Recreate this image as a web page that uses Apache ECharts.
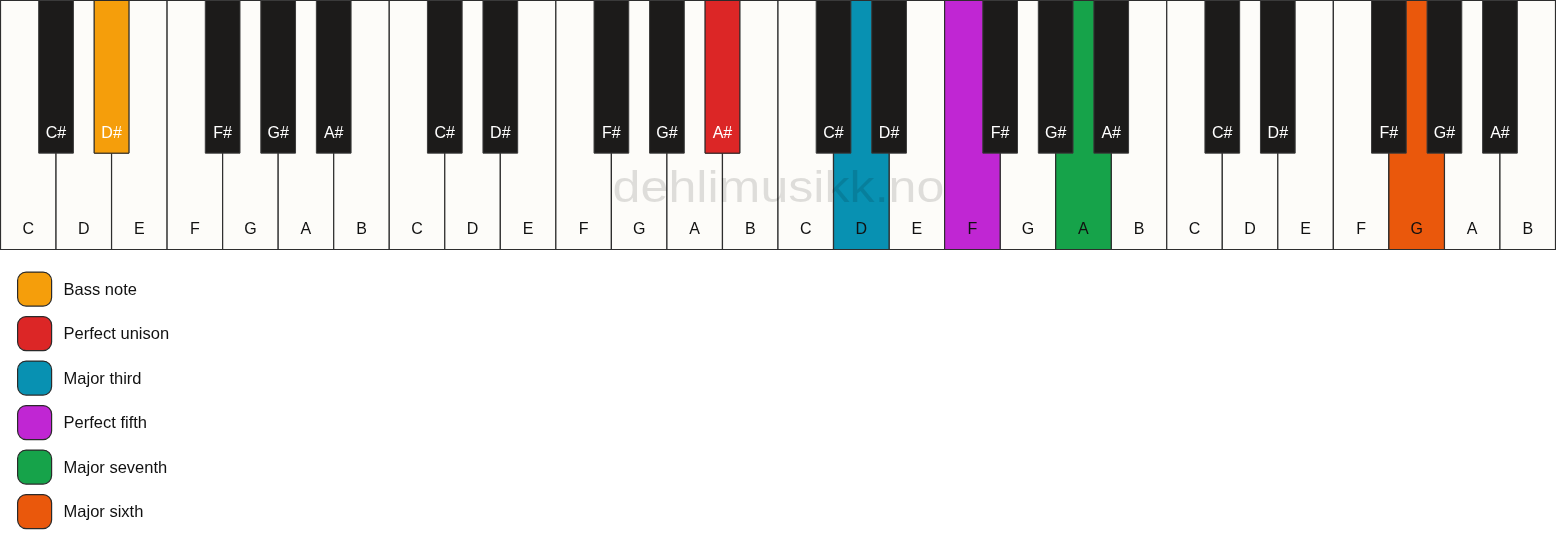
<!DOCTYPE html>
<html>
<head>
<meta charset="utf-8">
<script src="https://cdn.jsdelivr.net/npm/echarts@6/dist/echarts.min.js"></script>
<style>
html,body{margin:0;padding:0;background:#ffffff;}
#chart{width:1556px;height:550px;}
</style>
</head>
<body>
<div id="chart"></div>
<script>
// ---- data ----
const whiteNotes = ['C', 'D', 'E', 'F', 'G', 'A', 'B'];
const blackNotes = ['C#', 'D#', 'F#', 'G#', 'A#'];
const octaveCount = 4;
const roleNames = ['Bass note', 'Perfect unison', 'Major third', 'Perfect fifth', 'Major seventh', 'Major sixth'];
const roleNotes = ['D#', 'A#', 'D', 'F', 'A', 'G'];
const roleOctaves = [0, 1, 2, 2, 2, 3];
const roleColors = ['#F59E0B', '#DC2626', '#0891B2', '#C026D3', '#16A34A', '#EA580C'];
const watermarkText = 'dehlimusikk.no';

// ---- style constants ----
const FONT = '"Liberation Sans", Arial, Helvetica, sans-serif';
const WHITE_FILL = '#fdfcf9';
const BLACK_FILL = '#1c1b1a';
const BLACK_LEN = 0.613;   // fraction of white key length
const BLACK_W = 0.625;     // fraction of white key width
const WHITE_LABEL_Y = 0.922;
const BLACK_LABEL_Y = 0.534;

// note -> position on white-key axis
function notePos(note, octave) {
  const base = octave * 7 + whiteNotes.indexOf(note[0]);
  return note.length > 1 ? base + 1 : base;
}
const isBlack = n => n.indexOf('#') >= 0;

const whiteLabels = [], whitePos = [];
const blackLabels = [], blackPos = [];
for (let o = 0; o < octaveCount; o++) {
  whiteNotes.forEach(n => { whiteLabels.push(n); whitePos.push(notePos(n, o)); });
  blackNotes.forEach(n => { blackLabels.push(n); blackPos.push(notePos(n, o)); });
}

function whiteKey(api, pos, label, fill) {
  const tl = api.coord([pos, 0]);
  const br = api.coord([pos + 1, 1]);
  const ly = api.coord([pos, WHITE_LABEL_Y])[1];
  return {
    type: 'group',
    children: [
      { type: 'rect', shape: { x: tl[0], y: tl[1], width: br[0] - tl[0], height: br[1] - tl[1] },
        style: { fill: fill, stroke: '#2e2e2e', lineWidth: 1.2 } },
      { type: 'text', x: (tl[0] + br[0]) / 2, y: ly,
        style: { text: label, fill: '#111111', font: '16px ' + FONT,
                 align: 'center', verticalAlign: 'middle', textAlign: 'center', textVerticalAlign: 'middle' } }
    ]
  };
}
function blackKey(api, pos, label, fill, stroke) {
  const tl = api.coord([pos - BLACK_W / 2, 0]);
  const br = api.coord([pos + BLACK_W / 2, BLACK_LEN]);
  const ly = api.coord([pos, BLACK_LABEL_Y])[1];
  return {
    type: 'group',
    children: [
      { type: 'rect', shape: { x: tl[0], y: tl[1], width: br[0] - tl[0], height: br[1] - tl[1] },
        style: { fill: fill, stroke: stroke, lineWidth: 1 } },
      { type: 'text', x: (tl[0] + br[0]) / 2, y: ly,
        style: { text: label, fill: '#ffffff', font: '16px ' + FONT,
                 align: 'center', verticalAlign: 'middle', textAlign: 'center', textVerticalAlign: 'middle' } }
    ]
  };
}

const series = [
  {
    name: 'white keys', type: 'custom', z: 1, silent: true,
    data: whitePos.map(p => [p]),
    renderItem: (params, api) => whiteKey(api, api.value(0), whiteLabels[params.dataIndex], WHITE_FILL)
  },
  {
    name: 'black keys', type: 'custom', z: 3, silent: true,
    data: blackPos.map(p => [p]),
    renderItem: (params, api) => blackKey(api, api.value(0), blackLabels[params.dataIndex], BLACK_FILL, '#3a3a3a')
  }
];
roleNames.forEach((name, k) => {
  const note = roleNotes[k];
  const black = isBlack(note);
  series.push({
    name: name, type: 'custom', z: black ? 4 : 2, silent: true,
    itemStyle: { color: roleColors[k] },
    data: [[notePos(note, roleOctaves[k])]],
    renderItem: (params, api) => black
      ? blackKey(api, api.value(0), note, roleColors[k], '#2a2a2a')
      : whiteKey(api, api.value(0), note, roleColors[k])
  });
});

const chart = echarts.init(document.getElementById('chart'), null, { renderer: 'canvas' });
chart.setOption({
  animation: false,
  backgroundColor: '#ffffff',
  grid: { left: 0.5, right: 0.5, top: 0.5, height: 249, containLabel: false },
  xAxis: { type: 'value', min: 0, max: whiteNotes.length * octaveCount, show: false },
  yAxis: { type: 'value', min: 0, max: 1, inverse: true, show: false },
  legend: {
    orient: 'vertical', left: 12, top: 266.5, padding: 5,
    itemWidth: 34, itemHeight: 34, itemGap: 9.3,
    icon: 'roundRect', selectedMode: false,
    data: roleNames,
    itemStyle: { borderColor: '#2a2a2a', borderWidth: 1.2 },
    formatter: n => '{t|' + n + '}',
    textStyle: {
      color: '#111111', fontSize: 16.5, fontFamily: FONT,
      rich: { t: { color: '#111111', fontSize: 16.5, fontFamily: FONT, padding: [2, 0, 0, 7] } }
    }
  },
  graphic: [{
    type: 'text', x: 778.5, y: 190, scaleX: 1.14, z: 100, silent: true,
    style: { text: watermarkText, font: '44px ' + FONT, fill: 'rgba(0,0,0,0.12)',
             align: 'center', verticalAlign: 'middle', textAlign: 'center', textVerticalAlign: 'middle' }
  }],
  series: series
});
</script>
</body>
</html>
